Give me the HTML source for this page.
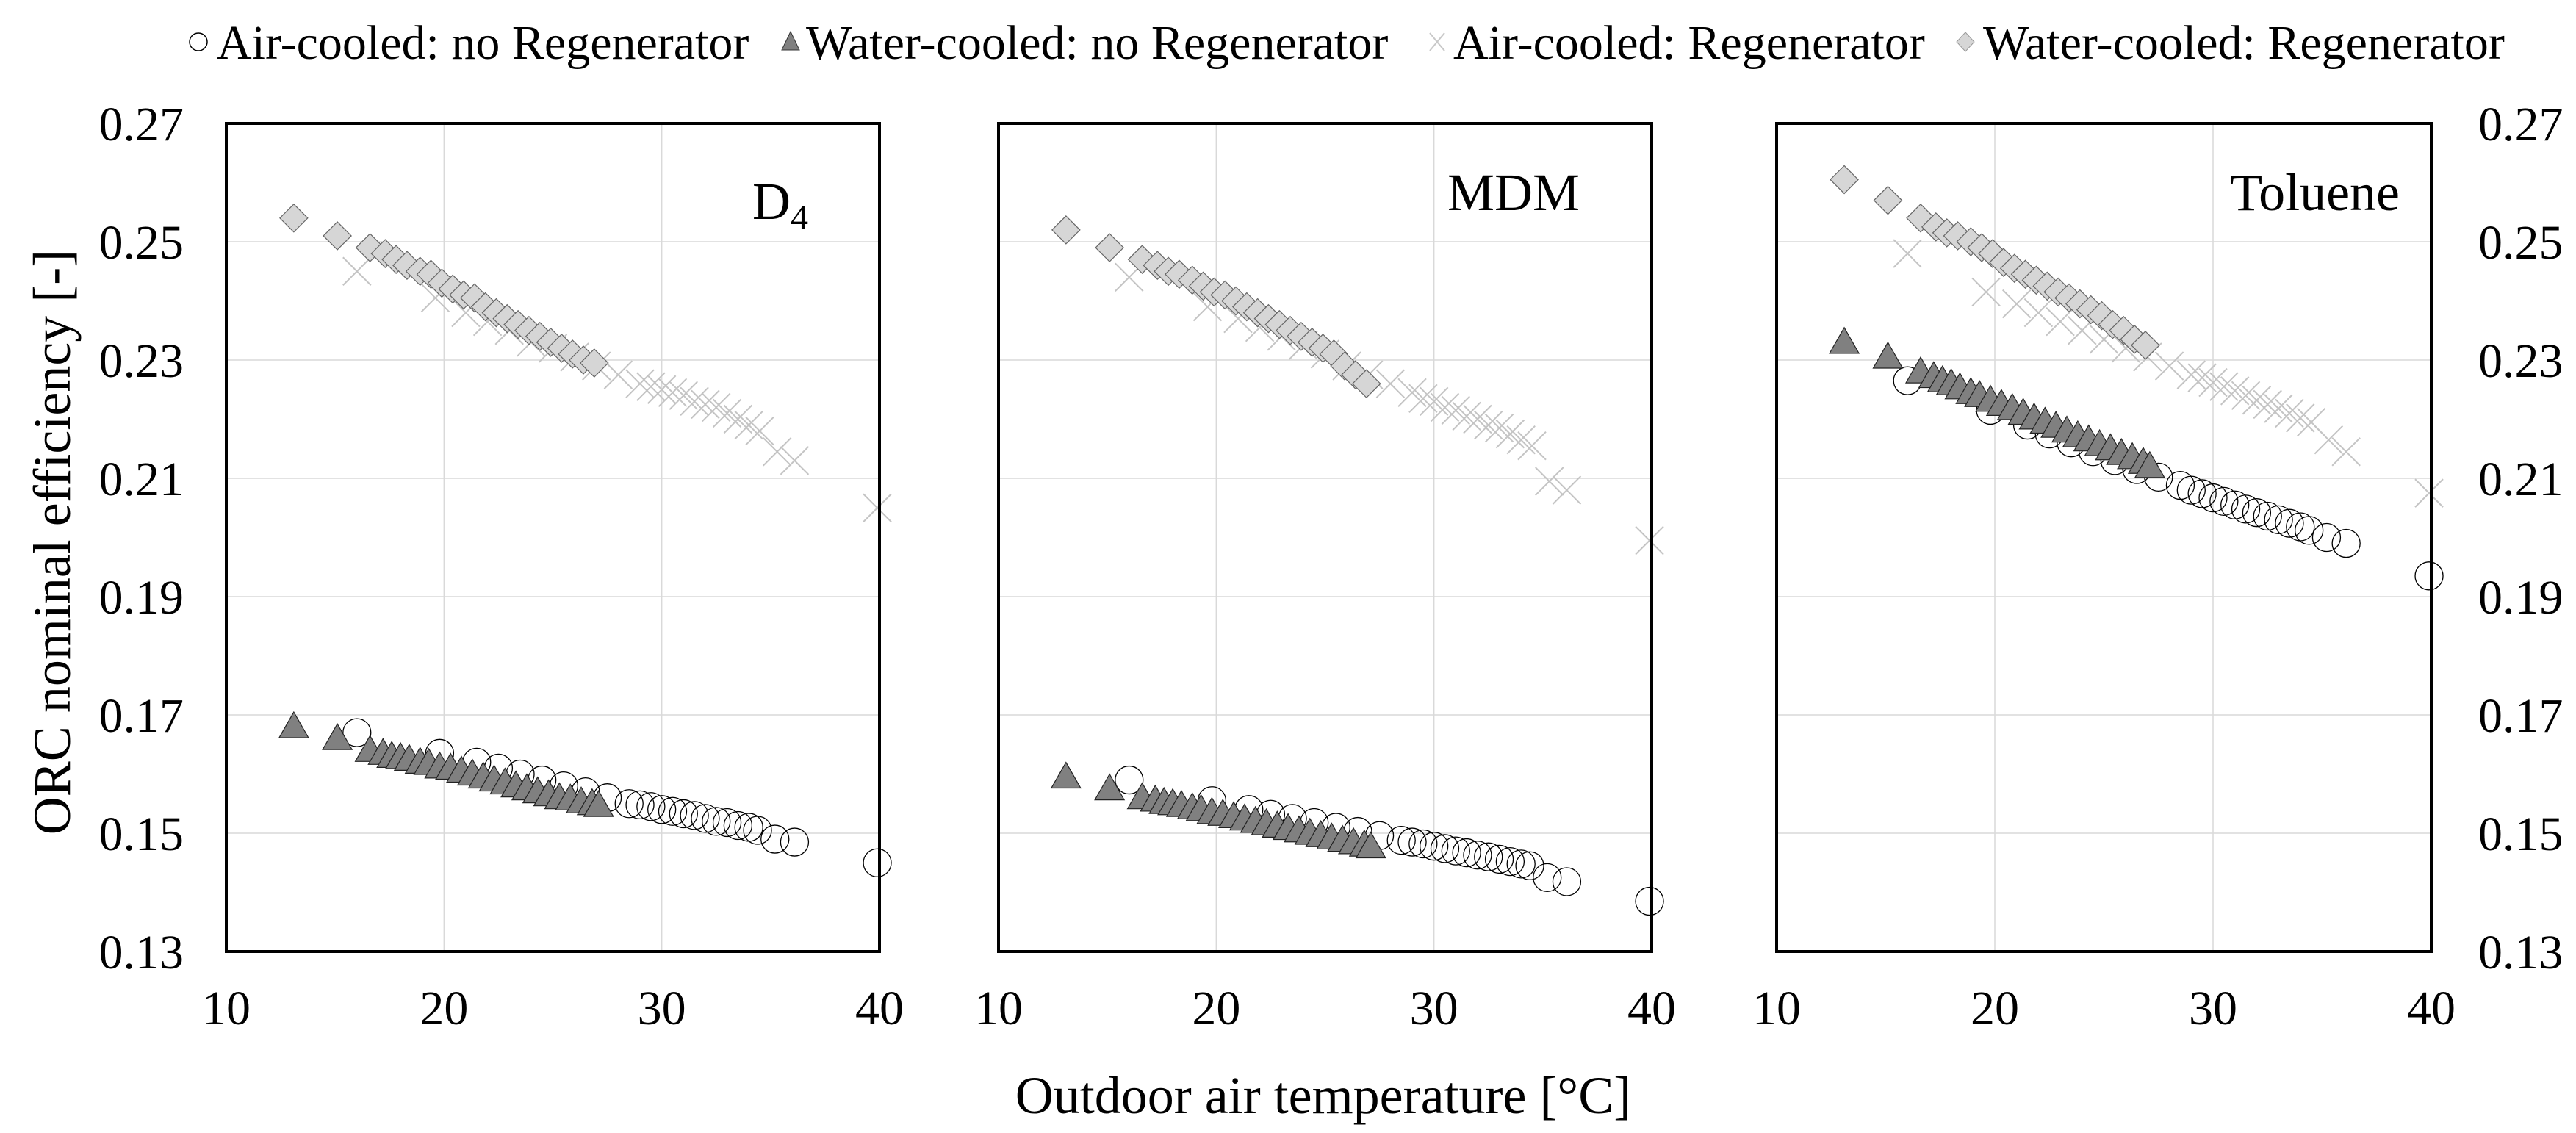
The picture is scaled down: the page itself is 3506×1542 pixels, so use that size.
<!DOCTYPE html>
<html><head><meta charset="utf-8"><style>
html,body{margin:0;padding:0;background:#fff}
svg{display:block;font-family:"Liberation Serif","Times New Roman",serif}
</style></head><body>
<svg id="chart" width="3506" height="1542" viewBox="0 0 3506 1542" xmlns="http://www.w3.org/2000/svg">
<g id="legend" font-size="66" fill="#000">
 <g><circle cx="270" cy="57" r="12" fill="none" stroke="#000" stroke-width="1.5"/><text x="295" y="80">Air-cooled: no Regenerator</text></g>
 <g><polygon points="1076,43 1064,68 1088,68" fill="#808080" stroke="#333" stroke-width="1"/><text x="1097" y="80">Water-cooled: no Regenerator</text></g>
 <g><path d="M1946,45 L1966,69 M1966,45 L1946,69" stroke="#c8c8c8" stroke-width="2"/><text x="1978" y="80">Air-cooled: Regenerator</text></g>
 <g><polygon points="2675,44 2687,57 2675,70 2663,57" fill="#d6d6d6" stroke="#999" stroke-width="1"/><text x="2699" y="80">Water-cooled: Regenerator</text></g>
</g>
<text font-size="72" transform="translate(95,738) rotate(-90)" text-anchor="middle">ORC nominal efficiency [-]</text>
<text font-size="72" x="1801" y="1515" text-anchor="middle">Outdoor air temperature [°C]</text>
<g id="panels"></g>
</svg>
<script>
const xTicks=[10,20,30,40];
const yTicks=[0.13,0.15,0.17,0.19,0.21,0.23,0.25,0.27];
const yTickLabels=["0.13","0.15","0.17","0.19","0.21","0.23","0.25","0.27"];
const panelNames=["D4","MDM","Toluene"];
const triX=[13.1,15.1,16.6,17.2,17.6,18.0,18.4,18.9,19.3,19.8,20.3,20.8,21.3,21.8,22.3,22.8,23.3,23.8,24.3,24.8,25.3,25.8,26.3,26.8,27.1];
const triD4=[.168,.166,.164,.1635,.163,.1628,.1625,.162,.1618,.1612,.161,.1605,.160,.1595,.159,.1585,.158,.1575,.157,.1565,.156,.1558,.1553,.155,.1547];
const triMDM=[.1595,.1575,.156,.1556,.1552,.155,.1547,.1543,.154,.1535,.1532,.1528,.1524,.152,.1516,.1512,.1508,.1504,.15,.1496,.1492,.1488,.1484,.148,.1477];
const triTol=[.233,.2305,.228,.2272,.2265,.226,.2253,.2245,.224,.2232,.2225,.2218,.221,.2202,.2195,.2188,.218,.2172,.2165,.2157,.215,.2142,.2135,.2127,.212];
const cirX=[16.0,19.8,21.5,22.5,23.5,24.5,25.5,26.5,27.5,28.5,29.0,29.5,30.0,30.5,31.0,31.5,32.0,32.5,33.0,33.5,34.0,34.4,35.2,36.1,39.9];
const cirD4=[.167,.1635,.162,.161,.160,.159,.158,.157,.156,.155,.1548,.1545,.154,.1537,.1533,.153,.1525,.152,.1518,.1513,.151,.1505,.149,.1485,.145];
const cirMDM=[.159,.1555,.154,.1532,.1525,.1518,.151,.1503,.1496,.1488,.1485,.1482,.1478,.1474,.147,.1467,.1463,.146,.1456,.1452,.1448,.1445,.1425,.1418,.1385];
const cirTol=[.2265,.2215,.219,.2175,.216,.2145,.213,.2115,.2102,.2088,.208,.2074,.2067,.2061,.2055,.2048,.2042,.2036,.203,.2024,.2018,.2012,.2,.199,.1935];
const diaX=[13.1,15.1,16.6,17.3,17.8,18.3,18.9,19.4,19.9,20.4,20.9,21.4,21.9,22.4,22.9,23.4,23.9,24.4,24.9,25.4,25.9,26.4,26.9];
const diaD4=[.254,.251,.249,.248,.247,.246,.245,.2445,.243,.242,.241,.2405,.239,.238,.237,.236,.235,.234,.233,.232,.231,.230,.2295];
const diaMDM=[.252,.249,.247,.246,.245,.2445,.2435,.2425,.2415,.241,.24,.239,.238,.237,.236,.235,.234,.233,.232,.231,.229,.2275,.226];
const diaTol=[.2605,.257,.254,.2525,.2515,.251,.25,.249,.248,.2465,.2455,.2445,.2435,.2425,.2415,.2405,.2395,.2385,.2375,.236,.235,.2335,.2325];
const crsX=[16.0,19.6,21.0,22.0,23.0,24.0,25.0,26.0,27.0,28.0,29.0,29.5,30.0,30.5,31.0,31.5,32.0,32.5,33.0,33.5,34.0,34.5,35.3,36.1,39.9];
const crsD4=[.245,.2405,.238,.2365,.235,.233,.232,.2305,.229,.2275,.226,.2255,.225,.2245,.224,.223,.2225,.222,.221,.22,.219,.218,.2145,.213,.205];
const crsMDM=[.244,.239,.237,.2355,.234,.2325,.231,.229,.2275,.226,.2245,.2235,.223,.222,.2215,.2205,.22,.219,.2185,.2175,.2165,.2155,.2095,.208,.1995];
const crsTol=[.248,.2415,.2395,.238,.2365,.235,.2335,.232,.2305,.229,.2275,.227,.2262,.2255,.2248,.224,.2232,.2225,.2218,.221,.2202,.2195,.2165,.2145,.2075];

const NS="http://www.w3.org/2000/svg";
const layout=[{l:308,r:1197,lab:"left",tx:1100,ty:298},{l:1359,r:2248,lab:"none",tx:2150,ty:286},{l:2418,r:3309,lab:"right",tx:3266,ty:286}];
const TOP=168,BOT=1295;
const panelData=[[cirD4,triD4,crsD4,diaD4],[cirMDM,triMDM,crsMDM,diaMDM],[cirTol,triTol,crsTol,diaTol]];
function mk(tag,attrs,parent){const e=document.createElementNS(NS,tag);for(const k in attrs)e.setAttribute(k,attrs[k]);parent.appendChild(e);return e;}
const root=document.getElementById('panels');
layout.forEach((L,pi)=>{
  const xs=v=>L.l+(v-10)/30*(L.r-L.l);
  const ys=v=>BOT-(v-0.13)/0.14*(BOT-TOP);
  const g=mk('g',{},root);
  
  
  xTicks.slice(1,-1).forEach(t=>{const ln=mk('line',{x1:xs(t),x2:xs(t),y1:TOP,y2:BOT,stroke:'#d9d9d9','stroke-width':1.5},g);
    });
  yTicks.slice(1,-1).forEach(t=>{const ln=mk('line',{x1:L.l,x2:L.r,y1:ys(t),y2:ys(t),stroke:'#d9d9d9','stroke-width':1.5},g);
    });
  xTicks.forEach(t=>{const tx=mk('text',{x:xs(t),y:1394,'font-size':66,'text-anchor':'middle'},g);tx.textContent=t;
    });
  if(L.lab!=='none'){yTicks.forEach((t,i)=>{const right=L.lab==='right';
    const tx=mk('text',{x:right?3373:250,y:ys(t)+23,'font-size':66,'text-anchor':right?'start':'end'},g);tx.textContent=yTickLabels[i];
    });}
  const [cy,ty,xy,dy]=panelData[pi];
  const cg=mk('g',{},g);
  cirX.forEach((x,i)=>{const c=mk('circle',{cx:xs(x),cy:ys(cy[i]),r:19,fill:'none',stroke:'#000','stroke-width':1.3},cg);
    });
  const tg=mk('g',{},g);
  triX.forEach((x,i)=>{const X=xs(x),Y=ys(ty[i]);const p=mk('polygon',{points:`${X},${Y-20} ${X-20},${Y+15} ${X+20},${Y+15}`,fill:'#808080',stroke:'#222','stroke-width':1.2},tg);
    });
  const xg=mk('g',{},g);
  crsX.forEach((x,i)=>{const X=xs(x),Y=ys(xy[i]);const p=mk('path',{d:`M${X-19},${Y-19}L${X+19},${Y+19}M${X+19},${Y-19}L${X-19},${Y+19}`,stroke:'#c4c4c4','stroke-width':2,fill:'none'},xg);
    });
  const dg=mk('g',{},g);
  diaX.forEach((x,i)=>{const X=xs(x),Y=ys(dy[i]);const p=mk('polygon',{points:`${X},${Y-19} ${X+19},${Y} ${X},${Y+19} ${X-19},${Y}`,fill:'#d6d6d6',stroke:'#666','stroke-width':1.2},dg);
    });
  const fr=mk('rect',{x:L.l,y:TOP,width:L.r-L.l,height:BOT-TOP,fill:'none',stroke:'#000','stroke-width':4},g);
  
  const lbl=mk('text',{x:L.tx,y:L.ty,'font-size':72,'text-anchor':'end'},g);
  
  if(pi===0){lbl.textContent='D';const s=mk('tspan',{'font-size':48,dy:14},lbl);s.textContent='4';}
  else lbl.textContent=panelNames[pi];
});
</script>
</body></html>
